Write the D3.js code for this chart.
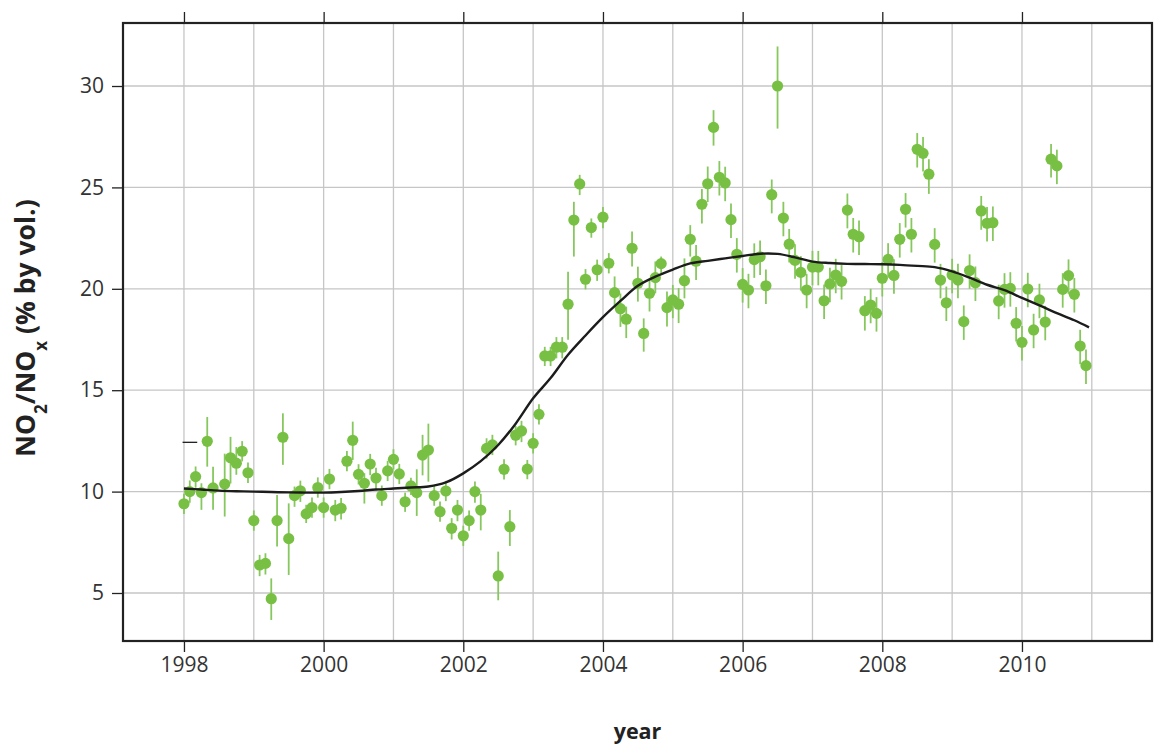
<!DOCTYPE html>
<html>
<head>
<meta charset="utf-8">
<script src="https://cdn.jsdelivr.net/npm/d3@7"></script>
<style>
  html, body { margin: 0; padding: 0; background: #ffffff; }
  svg { display: block; font-family: "Open Sans", "Noto Sans", sans-serif; }
</style>
</head>
<body>
<svg id="chart" width="1154" height="744"></svg>
<script>
// ---------------- data ----------------
const firstYear = 1998;           // first month = January 1998, one value per month
const values = [
  9.4, 10.0, 10.74, 9.95, 12.48, 10.18, null, 10.37, 11.67, 11.4, 11.99, 10.93,
  8.57, 6.38, 6.46, 4.72, 8.57, 12.68, 7.68, 9.8, 10.04, 8.9, 9.21, 10.2,
  9.21, 10.62, 9.09, 9.18, 11.5, 12.53, 10.85, 10.41, 11.36, 10.67, 9.8, 11.02,
  11.59, 10.87, 9.5, 10.28, 9.95, 11.8, 12.05, 9.8, 9.01, 10.03, 8.19, 9.09,
  7.82, 8.57, 10.0, 9.09, 12.13, 12.3, 5.84, 11.1, 8.27, 12.78, 12.99, 11.11,
  12.38, 13.81, 16.69, 16.69, 17.12, 17.12, 19.24, 23.39, 25.17, 20.47, 23.02, 20.94,
  23.53, 21.26, 19.81, 19.02, 18.5, 22.0, 20.27, 17.8, 19.78, 20.55, 21.24, 19.07,
  19.45, 19.24, 20.4, 22.44, 21.36, 24.17, 25.18, 27.96, 25.5, 25.22, 23.41, 21.7,
  20.22, 19.94, 21.44, 21.58, 20.15, 24.64, 30.0, 23.49, 22.2, 21.4, 20.81, 19.94,
  21.07, 21.07, 19.41, 20.24, 20.68, 20.37, 23.88, 22.69, 22.57, 18.92, 19.2, 18.79,
  20.52, 21.45, 20.66, 22.44, 23.92, 22.69, 26.88, 26.68, 25.65, 22.19, 20.43, 19.31,
  20.68, 20.43, 18.38, 20.9, 20.3, 23.84, 23.23, 23.26, 19.4, 19.97, 20.02, 18.3,
  17.36, 19.99, 17.97, 19.45, 18.36, 26.39, 26.06, 19.97, 20.65, 19.73, 17.18, 16.21
];
// error bar extents above / below each value
const errUp = [
  0.5, 0.55, 0.5, 0.46, 1.2, 1.05, null, 1.5, 1.03, 0.8, 0.5, 0.5,
  0.5, 0.5, 0.5, 1.0, 1.26, 1.18, 1.74, 0.45, 0.5, 0.45, 0.5, 0.5,
  0.5, 0.5, 0.5, 0.5, 0.5, 0.92, 0.5, 0.5, 0.5, 0.5, 0.5, 0.5,
  0.5, 0.5, 0.45, 0.4, 1.15, 1.0, 1.3, 0.5, 0.5, 0.5, 0.5, 0.5,
  0.5, 0.5, 0.5, 0.8, 0.5, 0.5, 1.2, 0.5, 0.82, 0.45, 0.5, 0.45,
  0.5, 0.5, 0.45, 0.45, 0.5, 0.5, 1.6, 0.9, 0.45, 0.5, 0.45, 0.5,
  0.5, 0.5, 0.8, 0.75, 0.62, 0.82, 0.82, 0.74, 0.66, 0.8, 0.35, 0.8,
  0.74, 0.8, 1.1, 0.7, 0.8, 0.75, 0.85, 0.85, 0.8, 0.8, 0.8, 0.8,
  0.8, 0.8, 0.8, 0.8, 0.8, 0.75, 1.95, 0.8, 0.75, 0.8, 0.8, 0.8,
  0.8, 0.8, 0.8, 0.8, 0.8, 0.8, 0.82, 0.8, 0.8, 0.72, 0.8, 0.8,
  0.8, 0.8, 0.8, 0.8, 0.8, 0.8, 0.8, 0.8, 0.74, 0.8, 0.8, 0.8,
  0.8, 0.8, 0.8, 0.8, 0.8, 0.74, 0.8, 0.8, 0.8, 0.8, 0.8, 0.8,
  0.8, 0.8, 0.8, 0.8, 0.8, 0.75, 0.8, 0.8, 0.8, 0.8, 0.8, 0.8
];
const errDown = [
  0.5, 0.55, 0.55, 0.85, 1.25, 1.08, null, 1.6, 1.27, 0.57, 0.5, 0.5,
  0.5, 0.55, 0.55, 1.05, 1.28, 1.36, 1.79, 0.55, 0.55, 0.45, 0.5, 0.5,
  0.5, 0.5, 0.55, 0.55, 0.5, 0.97, 0.5, 1.0, 0.55, 0.6, 0.5, 0.5,
  0.5, 0.5, 0.5, 0.45, 1.15, 1.0, 1.56, 0.5, 0.5, 0.5, 0.55, 0.55,
  0.5, 0.5, 0.55, 1.0, 0.5, 0.5, 1.2, 0.5, 0.95, 0.5, 0.55, 0.5,
  0.5, 0.5, 0.5, 0.5, 0.55, 0.55, 1.75, 1.8, 0.55, 0.5, 0.5, 0.55,
  0.55, 0.5, 0.7, 0.9, 0.93, 0.9, 0.9, 0.9, 0.9, 0.77, 0.48, 0.93,
  0.9, 0.93, 0.87, 0.85, 0.92, 0.95, 0.9, 0.9, 0.9, 0.9, 0.9, 0.9,
  0.9, 0.9, 0.9, 0.9, 0.9, 0.92, 2.1, 0.9, 0.9, 0.9, 0.9, 0.9,
  0.9, 0.9, 0.9, 0.9, 0.9, 0.9, 0.9, 0.9, 0.9, 0.98, 0.9, 0.9,
  0.9, 0.9, 0.9, 0.9, 0.9, 0.9, 0.9, 0.9, 0.97, 0.9, 0.9, 0.9,
  0.9, 0.9, 0.9, 0.9, 0.9, 0.93, 0.9, 0.9, 0.9, 0.9, 0.9, 0.9,
  0.9, 0.9, 0.9, 0.9, 0.9, 0.9, 0.9, 0.9, 0.9, 0.9, 0.9, 0.9
];
// smooth trend line (decimal year, value)
const trendYears = [
  1998.0, 1998.25, 1998.5, 1998.75, 1999.0, 1999.25, 1999.5, 1999.75,
  2000.0, 2000.25, 2000.5, 2000.75, 2001.0, 2001.25, 2001.5, 2001.75,
  2002.0, 2002.25, 2002.5, 2002.75, 2003.0, 2003.25, 2003.5, 2003.75,
  2004.0, 2004.25, 2004.5, 2004.75, 2005.0, 2005.25, 2005.5, 2005.75,
  2006.0, 2006.25, 2006.5, 2006.75, 2007.0, 2007.25, 2007.5, 2007.75,
  2008.0, 2008.25, 2008.5, 2008.75, 2009.0, 2009.25, 2009.5, 2009.75,
  2010.0, 2010.25, 2010.5, 2010.75, 2010.96
];
const trendValues = [
  10.15, 10.1, 10.05, 10.02, 10.0, 9.98, 9.96, 9.95,
  9.95, 9.98, 10.03, 10.1, 10.15, 10.2, 10.25, 10.45,
  10.9, 11.5, 12.3, 13.35, 14.6, 15.6, 16.75, 17.7,
  18.6, 19.4, 20.15, 20.6, 20.95, 21.25, 21.38, 21.5,
  21.62, 21.73, 21.72, 21.55, 21.34, 21.27, 21.23, 21.22,
  21.21, 21.18, 21.13, 21.07, 20.86, 20.55, 20.2, 19.93,
  19.55, 19.18, 18.8, 18.45, 18.1
];
// short reference stub near the start
const stubYears = [1997.98, 1998.19];
const stubValue = 12.43;

const xTicks = [1998, 2000, 2002, 2004, 2006, 2008, 2010];
const xGrid = [1998, 1999, 2000, 2001, 2002, 2003, 2004, 2005, 2006, 2007, 2008, 2009, 2010, 2011];
const yTicks = [5, 10, 15, 20, 25, 30];
const xDomain = [1997.127, 2011.862];
const yDomain = [2.633, 33.107];

// ---------------- chart ----------------
const svg = d3.select("#chart");
const L = 123, R = 1152, T = 23, B = 641;
const x = d3.scaleLinear().domain(xDomain).range([L, R]);
const y = d3.scaleLinear().domain(yDomain).range([B, T]);

const green = "#78c043";
const barGreen = "#86c85e";

svg.append("rect").attr("width", 1154).attr("height", 744).attr("fill", "#fff");

svg.append("defs").append("clipPath").attr("id", "clip")
  .append("rect").attr("x", L).attr("y", T).attr("width", R - L).attr("height", B - T);

// grid
const grid = svg.append("g");
grid.selectAll("line.v").data(xGrid).join("line")
  .attr("x1", d => x(d)).attr("x2", d => x(d)).attr("y1", T).attr("y2", B)
  .attr("stroke", "#c6c6c6").attr("stroke-width", 1.3);
grid.selectAll("line.h").data(yTicks).join("line")
  .attr("y1", d => y(d)).attr("y2", d => y(d)).attr("x1", L).attr("x2", R)
  .attr("stroke", "#c6c6c6").attr("stroke-width", 1.3);

// points data
const pts = values.map((v, i) => ({
  t: firstYear + i / 12, v, up: errUp[i], dn: errDown[i]
})).filter(d => d.v !== null);

const plot = svg.append("g").attr("clip-path", "url(#clip)");

plot.selectAll("line.err").data(pts).join("line")
  .attr("x1", d => x(d.t)).attr("x2", d => x(d.t))
  .attr("y1", d => y(d.v + d.up)).attr("y2", d => y(d.v - d.dn))
  .attr("stroke", barGreen).attr("stroke-width", 1.8);

plot.selectAll("circle").data(pts).join("circle")
  .attr("cx", d => x(d.t)).attr("cy", d => y(d.v)).attr("r", 5.6)
  .attr("fill", green);

const trend = trendYears.map((t, i) => [t, trendValues[i]]);
plot.append("path").datum(trend)
  .attr("d", d3.line().x(d => x(d[0])).y(d => y(d[1])).curve(d3.curveCatmullRom))
  .attr("fill", "none").attr("stroke", "#1c1c1c").attr("stroke-width", 2.4);

plot.append("line")
  .attr("x1", x(stubYears[0])).attr("x2", x(stubYears[1]))
  .attr("y1", y(stubValue)).attr("y2", y(stubValue))
  .attr("stroke", "#1c1c1c").attr("stroke-width", 1.3);

// axes
const tickColor = "#222";
const labelColor = "#333";
const axB = svg.append("g").attr("transform", `translate(0,${B})`)
  .call(d3.axisBottom(x).tickValues(xTicks).tickSize(11).tickPadding(5).tickFormat(d3.format("d")));
const axT = svg.append("g").attr("transform", `translate(0,${T})`)
  .call(d3.axisTop(x).tickValues(xTicks).tickSize(11).tickFormat(""));
const axL = svg.append("g").attr("transform", `translate(${L},0)`)
  .call(d3.axisLeft(y).tickValues(yTicks).tickSize(11).tickPadding(8));
[axB, axT, axL].forEach(g => {
  g.select(".domain").remove();
  g.selectAll(".tick line").attr("stroke", tickColor).attr("stroke-width", 1.3);
  g.selectAll(".tick text").attr("fill", labelColor)
    .style("font-size", "21px").style("font-family", "'Open Sans', sans-serif");
});

// border
svg.append("rect").attr("x", L).attr("y", T).attr("width", R - L).attr("height", B - T)
  .attr("fill", "none").attr("stroke", "#222").attr("stroke-width", 2.2);

// titles
svg.append("text").attr("x", (L + R) / 2).attr("y", 739)
  .attr("text-anchor", "middle").attr("fill", "#222")
  .style("font-size", "21.5px").style("font-weight", "bold").text("year");

const yt = svg.append("text")
  .attr("transform", `translate(35,328) rotate(-90)`)
  .attr("text-anchor", "middle").attr("fill", "#222")
  .style("font-size", "26.5px").style("font-weight", "bold");
yt.append("tspan").text("NO");
yt.append("tspan").attr("baseline-shift", "sub").style("font-size", "17px").text("2");
yt.append("tspan").text("/NO");
yt.append("tspan").attr("baseline-shift", "sub").style("font-size", "17px").text("x");
yt.append("tspan").text(" (% by vol.)");
</script>
</body>
</html>
